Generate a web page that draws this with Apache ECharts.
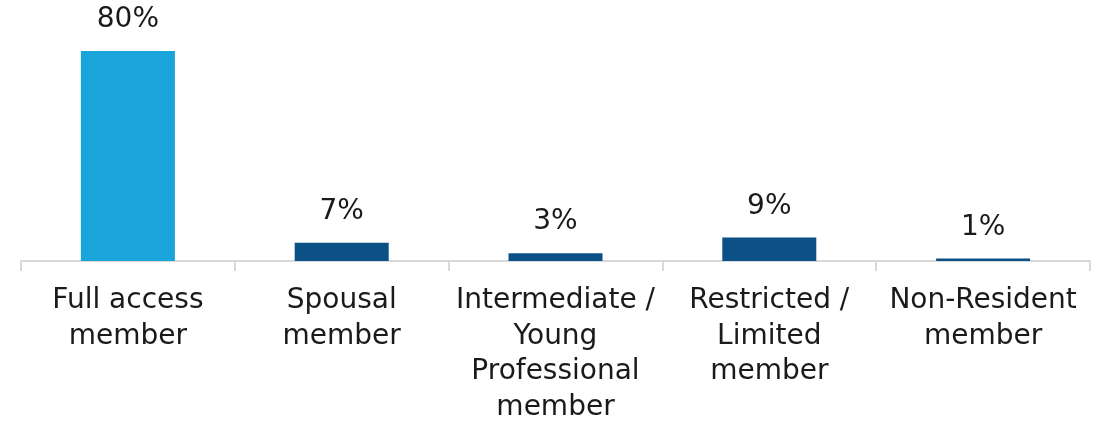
<!DOCTYPE html>
<html>
<head>
<meta charset="utf-8">
<script src="https://cdn.jsdelivr.net/npm/echarts@6/dist/echarts.min.js"></script>
<style>
  html, body { margin: 0; padding: 0; background: #ffffff; overflow: hidden; }
  #chart { width: 1112px; height: 425px; }
</style>
</head>
<body>
<div id="chart"></div>
<script>
// Membership categories and the share of members in each (percent)
const categories = [
  'Full access\nmember',
  'Spousal\nmember',
  'Intermediate /\nYoung\nProfessional\nmember',
  'Restricted /\nLimited\nmember',
  'Non-Resident\nmember'
];
const shares = [80, 7, 3, 9, 1];

const FONT = '"DejaVu Sans", "Open Sans", sans-serif';
const LIGHT_BLUE = '#1aa5da';
const DARK_BLUE = '#0c5186';

const chart = echarts.init(document.getElementById('chart'), null, { renderer: 'canvas' });
chart.setOption({
  animation: false,
  backgroundColor: '#ffffff',
  grid: { left: 21, right: 22, top: 51, bottom: 160, containLabel: false },
  xAxis: {
    type: 'category',
    data: categories,
    axisLine: { show: true, lineStyle: { color: '#d9d9d9', width: 2 } },
    axisTick: { show: true, length: 10, lineStyle: { color: '#d9d9d9', width: 2 } },
    axisLabel: {
      interval: 0,
      margin: 22,
      color: '#1a1a1a',
      fontFamily: FONT,
      fontSize: 28,
      lineHeight: 35.5
    }
  },
  yAxis: {
    type: 'value',
    min: 0,
    max: 80,
    show: false,
    splitLine: { show: false }
  },
  series: [{
    type: 'bar',
    data: shares,
    barWidth: 94,
    itemStyle: {
      // the full access bar is highlighted in a lighter blue
      color: (p) => (p.dataIndex === 0 ? LIGHT_BLUE : DARK_BLUE)
    },
    label: {
      show: true,
      position: 'top',
      distance: 17,
      formatter: '{c}%',
      color: '#1a1a1a',
      fontFamily: FONT,
      fontSize: 28
    }
  }]
});
</script>
</body>
</html>
